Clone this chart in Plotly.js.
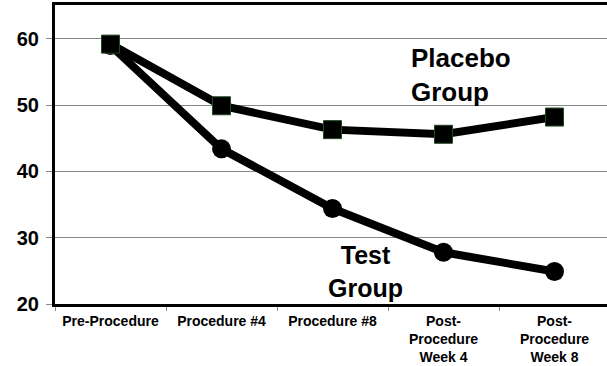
<!DOCTYPE html>
<html>
<head>
<meta charset="utf-8">
<script src="https://cdn.plot.ly/plotly-3.0.1.min.js"></script>
<style>html,body{margin:0;padding:0;background:#fff;}#chart{width:607px;height:366px;}</style>
</head>
<body>
<div id="chart"></div>
<script>
const categories = ["Pre-Procedure", "Procedure #4", "Procedure #8", "Post-<br>Procedure<br>Week 4", "Post-<br>Procedure<br>Week 8"];
const placeboValues = [59.2, 49.9, 46.3, 45.6, 48.2];
const testValues = [59.0, 43.4, 34.4, 27.8, 24.9];
const yTicks = [20, 30, 40, 50, 60];
const placeboLabel = "Placebo<br>Group";
const testLabel = "Test<br>Group";

const FONT = "Liberation Sans, Arial, Helvetica, sans-serif";

const traces = [
  {
    x: categories, y: testValues, type: "scatter", mode: "lines+markers",
    line: {color: "#000", width: 8},
    marker: {symbol: "circle", size: 19, color: "#000", line: {width: 0}},
    name: "Test Group", showlegend: false
  },
  {
    x: categories, y: placeboValues, type: "scatter", mode: "lines+markers",
    line: {color: "#000", width: 8},
    marker: {symbol: "square", size: 18, color: "#000", line: {width: 1, color: "#1e4a1e"}},
    name: "Placebo Group", showlegend: false
  }
];

const layout = {
  width: 607, height: 366,
  margin: {l: 55, r: 0, t: 5, b: 62, pad: 0},
  paper_bgcolor: "#fff", plot_bgcolor: "#fff",
  font: {family: FONT, color: "#000"},
  xaxis: {
    type: "category",
    range: [-0.5, 4.473],
    showline: true, linecolor: "#000", linewidth: 3, mirror: true,
    ticks: "outside", tickson: "boundaries", ticklen: 4, tickcolor: "#888", tickwidth: 1,
    showgrid: false, zeroline: false,
    tickangle: 0,
    tickfont: {family: FONT, size: 14, color: "#000", weight: "bold"},
    ticklabelstandoff: 2
  },
  yaxis: {
    range: [20, 65.1],
    tickvals: yTicks,
    showline: true, linecolor: "#000", linewidth: 3,
    ticks: "outside", ticklen: 6, tickcolor: "#888", tickwidth: 1,
    showgrid: true, gridcolor: "#888", gridwidth: 1,
    zeroline: false,
    tickfont: {family: FONT, size: 20, color: "#000", weight: "bold"},
    ticklabelstandoff: 3
  },
  annotations: [
    {text: placeboLabel, xref: "paper", yref: "paper", x: 0.641, y: 0.766,
     xanchor: "left", yanchor: "middle", align: "left", showarrow: false,
     font: {family: FONT, size: 26, color: "#000", weight: "bold"}},
    {text: testLabel, xref: "paper", yref: "paper", x: 0.5616, y: 0.110,
     xanchor: "center", yanchor: "middle", align: "center", showarrow: false,
     font: {family: FONT, size: 25, color: "#000", weight: "bold"}}
  ]
};

Plotly.newPlot("chart", traces, layout, {displayModeBar: false, staticPlot: true});
</script>
</body>
</html>
